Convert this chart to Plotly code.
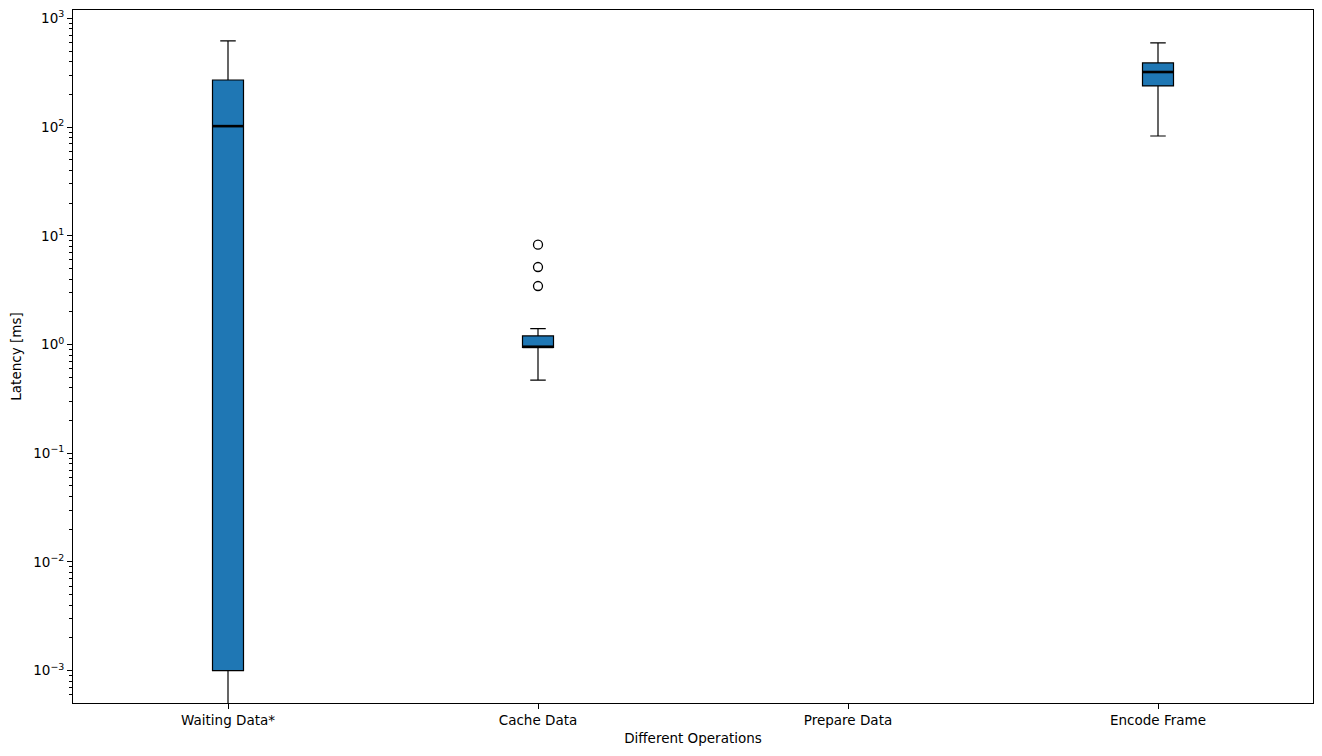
import plotly.graph_objects as go

categories = ["Waiting Data*", "Cache Data", "Prepare Data", "Encode Frame"]
positions = [1, 2, 3, 4]
# box statistics (ms); None = no data
q1 = [0.001, 0.94, None, 239]
median = [102, 0.95, None, 321]
q3 = [271, 1.20, None, 389]
lowerfence = [1e-5, 0.47, None, 82.8]
upperfence = [620, 1.40, None, 594]
# outliers for Cache Data
outlier_pos = [2, 2, 2]
outlier_vals = [8.28, 5.16, 3.45]

ytick_vals = [1e-3, 1e-2, 1e-1, 1, 10, 100, 1000]
ytick_text = ["10<sup>−3</sup>", "10<sup>−2</sup>", "10<sup>−1</sup>", "10<sup>0</sup>",
              "10<sup>1</sup>", "10<sup>2</sup>", "10<sup>3</sup>"]

BOXW = 0.1
fig = go.Figure()

bx, bq1, bmed, bq3, blo, bhi = [], [], [], [], [], []
for p, a, m, b, lo, hi in zip(positions, q1, median, q3, lowerfence, upperfence):
    if a is None:
        continue
    bx.append(p); bq1.append(a); bmed.append(m); bq3.append(b); blo.append(lo); bhi.append(hi)

fig.add_trace(go.Box(
    x=bx, q1=bq1, median=bmed, q3=bq3, lowerfence=blo, upperfence=bhi,
    width=BOXW, whiskerwidth=0.5,
    fillcolor="#1f77b4", line=dict(color="black", width=1.2),
    boxpoints=False, showlegend=False, hoverinfo="skip",
))

# thicker median lines
mx, my = [], []
for p, m in zip(bx, bmed):
    mx += [p - BOXW / 2, p + BOXW / 2, None]
    my += [m, m, None]
fig.add_trace(go.Scatter(x=mx, y=my, mode="lines",
                         line=dict(color="black", width=2.6),
                         showlegend=False, hoverinfo="skip"))

fig.add_trace(go.Scatter(x=outlier_pos, y=outlier_vals, mode="markers",
                         marker=dict(symbol="circle-open", size=9,
                                     color="black", line=dict(width=1.3)),
                         showlegend=False, hoverinfo="skip"))

minor_vals = []
for e in range(-4, 4):
    for k in range(2, 10):
        minor_vals.append(k * 10 ** e)

font = dict(family="DejaVu Sans", size=13.5, color="black")
fig.update_layout(
    width=1322, height=756,
    margin=dict(l=73, r=9, t=10, b=53),
    plot_bgcolor="white", paper_bgcolor="white",
    font=font,
    xaxis=dict(
        range=[0.5, 4.5], tickvals=positions, ticktext=categories,
        showline=True, linecolor="black", linewidth=1, mirror=True,
        ticks="outside", ticklen=5, tickcolor="black", showgrid=False,
        zeroline=False,
        title=dict(text="Different Operations", font=font, standoff=6),
    ),
    yaxis=dict(
        type="log", range=[-3.298, 3.077],
        tickvals=ytick_vals, ticktext=ytick_text,
        showline=True, linecolor="black", linewidth=1, mirror=True,
        ticks="outside", ticklen=5, tickcolor="black", showgrid=False,
        zeroline=False,
        minor=dict(tickvals=minor_vals, ticks="outside", ticklen=3,
                   tickcolor="black", showgrid=False),
        title=dict(text="Latency [ms]", font=font, standoff=8),
    ),
)

fig.write_html("out.html")
